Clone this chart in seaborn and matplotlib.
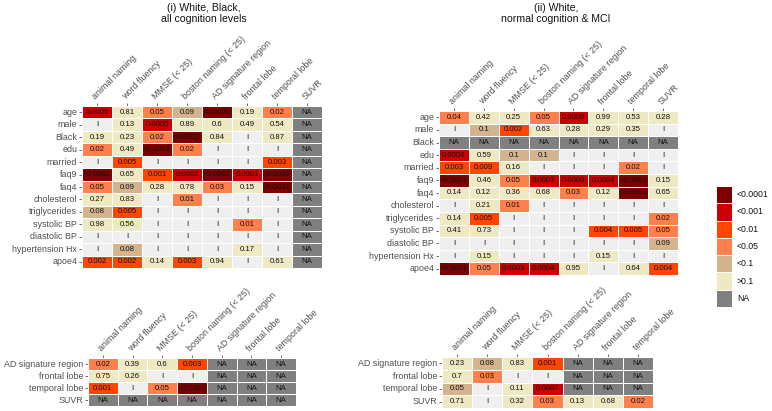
import numpy as np
import pandas as pd
import matplotlib
matplotlib.use("Agg")
import matplotlib.pyplot as plt
from matplotlib.colors import ListedColormap
from matplotlib.patches import Rectangle
import seaborn as sns

sns.set_theme(style="white")
plt.rcParams['font.family'] = ['Liberation Sans', 'DejaVu Sans']

# ---------------- data ----------------
cols_top = ["animal naming", "word fluency", "MMSE (< 25)", "boston naming (< 25)",
            "AD signature region", "frontal lobe", "temporal lobe", "SUVR"]
cols_bot = cols_top[:7]
rows_top = ["age", "male", "Black", "edu", "married", "faq9", "faq4", "cholesterol",
            "triglycerides", "systolic BP", "diastolic BP", "hypertension Hx", "apoe4"]
rows_bot = ["AD signature region", "frontal lobe", "temporal lobe", "SUVR"]

legend_labels = ["<0.0001", "<0.001", "<0.01", "<0.05", "<0.1", ">0.1", "NA"]

# panel (i) top: displayed p-values ("I" = not tested, "NA" = not available)
txt_i_top = [
    ["0.0005", "0.81", "0.05", "0.09", "<0.0001", "0.19", "0.02", "NA"],
    ["I", "0.13", "0.0005", "0.89", "0.6", "0.49", "0.54", "NA"],
    ["0.19", "0.23", "0.02", "<0.0001", "0.84", "I", "0.87", "NA"],
    ["0.02", "0.49", "<0.0001", "0.02", "I", "I", "I", "NA"],
    ["I", "0.005", "I", "I", "I", "I", "0.003", "NA"],
    ["<0.0001", "0.65", "0.001", "0.0002", "<0.0001", "0.0001", "<0.0001", "NA"],
    ["0.05", "0.09", "0.28", "0.78", "0.03", "0.15", "<0.0001", "NA"],
    ["0.27", "0.83", "I", "0.01", "I", "I", "I", "NA"],
    ["0.08", "0.005", "I", "I", "I", "I", "I", "NA"],
    ["0.98", "0.56", "I", "I", "I", "0.01", "I", "NA"],
    ["I", "I", "I", "I", "I", "I", "I", "NA"],
    ["I", "0.08", "I", "I", "I", "0.17", "I", "NA"],
    ["0.002", "0.002", "0.14", "0.003", "0.94", "I", "0.61", "NA"],
]
# significance level: 0 >0.1, 1 <0.1, 2 <0.05, 3 <0.01, 4 <0.001, 5 <0.0001, -1 not tested, 6 NA
lvl_i_top = [
    [4, 0, 2, 1, 5, 0, 2, 6],
    [-1, 0, 4, 0, 0, 0, 0, 6],
    [0, 0, 2, 5, 0, -1, 0, 6],
    [2, 0, 5, 2, -1, -1, -1, 6],
    [-1, 3, -1, -1, -1, -1, 3, 6],
    [5, 0, 3, 4, 5, 4, 5, 6],
    [2, 1, 0, 0, 2, 0, 5, 6],
    [0, 0, -1, 2, -1, -1, -1, 6],
    [1, 3, -1, -1, -1, -1, -1, 6],
    [0, 0, -1, -1, -1, 2, -1, 6],
    [-1, -1, -1, -1, -1, -1, -1, 6],
    [-1, 1, -1, -1, -1, 0, -1, 6],
    [3, 3, 0, 3, 0, -1, 0, 6],
]

txt_i_bot = [
    ["0.02", "0.39", "0.6", "0.003", "NA", "NA", "NA"],
    ["0.75", "0.26", "I", "I", "NA", "NA", "NA"],
    ["0.001", "I", "0.05", "<0.0001", "NA", "NA", "NA"],
    ["NA", "NA", "NA", "NA", "NA", "NA", "NA"],
]
lvl_i_bot = [
    [2, 0, 0, 3, 6, 6, 6],
    [0, 0, -1, -1, 6, 6, 6],
    [3, -1, 2, 5, 6, 6, 6],
    [6, 6, 6, 6, 6, 6, 6],
]

txt_ii_top = [
    ["0.04", "0.42", "0.25", "0.05", "0.0009", "0.99", "0.53", "0.28"],
    ["I", "0.1", "0.002", "0.63", "0.28", "0.29", "0.35", "I"],
    ["NA", "NA", "NA", "NA", "NA", "NA", "NA", "NA"],
    ["0.0004", "0.59", "0.1", "0.1", "I", "I", "I", "I"],
    ["0.003", "0.009", "0.16", "I", "I", "I", "0.02", "I"],
    ["<0.0001", "0.46", "0.05", "0.0007", "0.0009", "0.0004", "<0.0001", "0.15"],
    ["0.14", "0.12", "0.36", "0.68", "0.03", "0.12", "<0.0001", "0.65"],
    ["I", "0.21", "0.01", "I", "I", "I", "I", "I"],
    ["0.14", "0.005", "I", "I", "I", "I", "I", "0.02"],
    ["0.41", "0.73", "I", "I", "I", "0.004", "0.005", "0.05"],
    ["I", "I", "I", "I", "I", "I", "I", "0.09"],
    ["I", "0.15", "I", "I", "I", "0.15", "I", "I"],
    ["<0.0001", "0.05", "0.0003", "0.0004", "0.95", "I", "0.64", "0.004"],
]
lvl_ii_top = [
    [2, 0, 0, 2, 4, 0, 0, 0],
    [-1, 1, 3, 0, 0, 0, 0, -1],
    [6, 6, 6, 6, 6, 6, 6, 6],
    [4, 0, 1, 1, -1, -1, -1, -1],
    [3, 3, 0, -1, -1, -1, 2, -1],
    [5, 0, 2, 4, 4, 4, 5, 0],
    [0, 0, 0, 0, 2, 0, 5, 0],
    [-1, 0, 2, -1, -1, -1, -1, -1],
    [0, 3, -1, -1, -1, -1, -1, 2],
    [0, 0, -1, -1, -1, 3, 3, 2],
    [-1, -1, -1, -1, -1, -1, -1, 1],
    [-1, 0, -1, -1, -1, 0, -1, -1],
    [5, 2, 4, 4, 0, -1, 0, 3],
]

txt_ii_bot = [
    ["0.23", "0.08", "0.83", "0.001", "NA", "NA", "NA"],
    ["0.7", "0.03", "I", "I", "NA", "NA", "NA"],
    ["0.05", "I", "0.11", "0.0007", "NA", "NA", "NA"],
    ["0.71", "I", "0.32", "0.03", "0.13", "0.68", "0.02"],
]
lvl_ii_bot = [
    [0, 1, 0, 3, 6, 6, 6],
    [0, 2, -1, -1, 6, 6, 6],
    [1, -1, 0, 4, 6, 6, 6],
    [0, -1, 0, 2, 0, 0, 2],
]

# ---------------- style ----------------
C_EXCL = "#efefef"
level_colors = ["#efe9c3", "#d3b48e", "#ff7f4d", "#ff4500", "#cc0000", "#800000"]
C_NA = "#808080"
cmap = ListedColormap([C_EXCL] + level_colors + [C_NA])

W, H = 772, 411
fig = plt.figure(figsize=(W / 100, H / 100), dpi=100)
fig.patch.set_facecolor("white")


def px_axes(x0, y0, x1, y1):
    return fig.add_axes([x0 / W, 1 - y1 / H, (x1 - x0) / W, (y1 - y0) / H])


def draw(ax, txt, lvl, rows, cols):
    df = pd.DataFrame(lvl, index=rows, columns=cols)
    sns.heatmap(df, ax=ax, cmap=cmap, vmin=-1.5, vmax=6.5, cbar=False,
                annot=np.array(txt), fmt="", linewidths=0.7, linecolor="white",
                xticklabels=True, yticklabels=True,
                annot_kws=dict(size=5.6, color="#111111"))
    ax.xaxis.tick_top()
    ax.set_xticklabels(cols, rotation=45, ha="left", va="bottom",
                       rotation_mode="anchor", fontsize=6.4, color="#4d4d4d")
    ax.set_yticklabels(rows, rotation=0, fontsize=6.4, color="#4d4d4d")
    ax.tick_params(axis="both", which="both", length=2, width=0.6, color="#555555",
                   pad=1.5, top=True, left=True, bottom=False, labeltop=True,
                   labelbottom=False)
    ax.set_xlabel("")
    ax.set_ylabel("")
    for s in ax.spines.values():
        s.set_visible(False)


ax1 = px_axes(82, 106, 322, 268)
draw(ax1, txt_i_top, lvl_i_top, rows_top, cols_top)
ax2 = px_axes(88, 358, 296, 406)
draw(ax2, txt_i_bot, lvl_i_bot, rows_bot, cols_bot)
ax3 = px_axes(439, 111, 678, 275)
draw(ax3, txt_ii_top, lvl_ii_top, rows_top, cols_top)
ax4 = px_axes(442, 357, 653, 408)
draw(ax4, txt_ii_bot, lvl_ii_bot, rows_bot, cols_bot)

fig.text(204 / W, 1 - 3 / H, "(i) White, Black,\nall cognition levels", ha="center",
         va="top", fontsize=7.6, color="#111111", linespacing=1.15)
fig.text(556 / W, 1 - 3 / H, "(ii) White,\nnormal cognition & MCI", ha="center",
         va="top", fontsize=7.6, color="#111111", linespacing=1.15)

# legend
lax = px_axes(716, 186, 772, 307)
lax.set_xlim(0, 56)
lax.set_ylim(7, 0)
lax.axis("off")
leg_colors = level_colors[::-1] + [C_NA]
for i, (lab, col) in enumerate(zip(legend_labels, leg_colors)):
    lax.add_patch(Rectangle((0, i), 16, 1, facecolor=col, edgecolor="white", lw=0.7))
    lax.text(21, i + 0.5, lab, ha="left", va="center", fontsize=6.3, color="#111111")

fig.savefig("out.png", dpi=100)
